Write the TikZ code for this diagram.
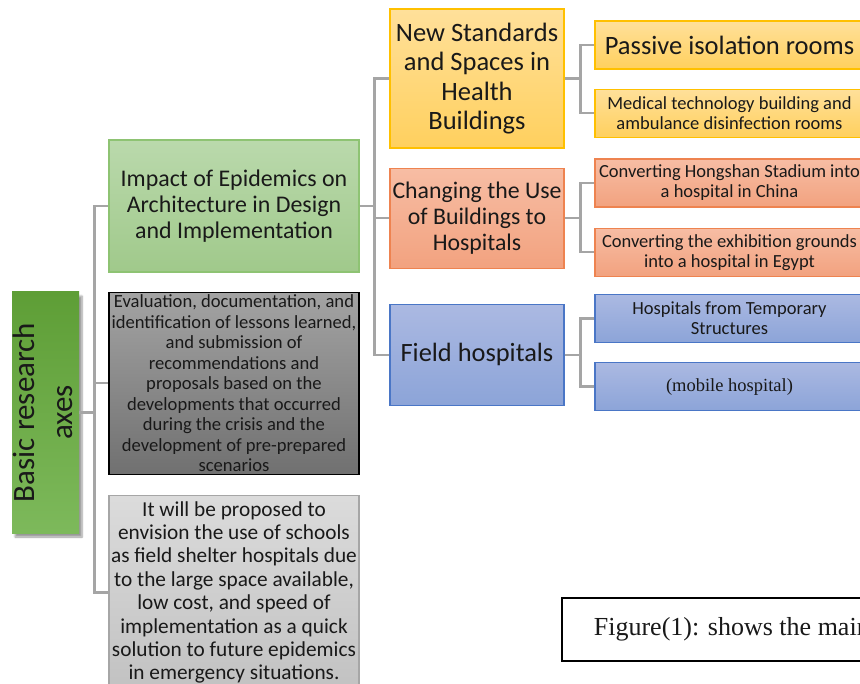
\documentclass[tikz,border=0pt]{standalone}
\usepackage{fontspec}
\setmainfont{Carlito}
\newfontfamily\serifface{Liberation Serif}
\usetikzlibrary{positioning, shadows.blur}

\definecolor{rootdark}{HTML}{5E9E36}
\definecolor{rootlight}{HTML}{7DB95B}
\definecolor{greentop}{HTML}{BAD9AC}
\definecolor{greenbot}{HTML}{A0C98B}
\definecolor{greenline}{HTML}{8EC373}
\definecolor{yellowtop}{HTML}{FFE09A}
\definecolor{yellowbot}{HTML}{FFD05E}
\definecolor{yellowline}{HTML}{FFC000}
\definecolor{orangetop}{HTML}{F7BDA4}
\definecolor{orangebot}{HTML}{F2A27F}
\definecolor{orangeline}{HTML}{EE8350}
\definecolor{bluetop}{HTML}{ABB9E2}
\definecolor{bluebot}{HTML}{8CA4D8}
\definecolor{blueline}{HTML}{4A76C6}
\definecolor{linkgray}{HTML}{A5A5A5}

\begin{document}
\begin{tikzpicture}[
    x=1pt, y=-1pt,
    every node/.style={inner sep=0pt, align=center, text=black!90},
    rootbox/.style={top color=rootdark, bottom color=rootlight, minimum width=67pt, minimum height=241pt,
        blur shadow={shadow xshift=3pt, shadow yshift=-4pt, shadow blur steps=6}},
    mainbox/.style={draw, line width=1.2pt, minimum width=250pt},
    stagebox/.style={draw, line width=1.2pt, minimum width=174pt},
    leafbox/.style={draw, line width=1.2pt, minimum width=269pt, minimum height=48pt,
        font=\fontsize{18.5}{20}\selectfont},
    greenfill/.style={top color=greentop, bottom color=greenbot, draw=greenline},
    yellowfill/.style={top color=yellowtop, bottom color=yellowbot, draw=yellowline},
    orangefill/.style={top color=orangetop, bottom color=orangebot, draw=orangeline},
    bluefill/.style={top color=bluetop, bottom color=bluebot, draw=blueline},
    link/.style={draw=linkgray, line width=2.6pt}
]
\useasboundingbox (0,0) rectangle (860,684);
\clip (0,0) rectangle (860,684);

% root on the left
\node[rootbox] (root) at (45.5,412.5)
    {\makebox[0pt]{\rotatebox{90}{\fontsize{31}{38}\selectfont\begin{tabular}{@{}c@{}}Basic research\\axes\end{tabular}}}};

% the three main axes
\node[mainbox, greenfill, minimum height=132pt, font=\fontsize{23.9}{26}\selectfont] (impact) at (234,206)
    {Impact of Epidemics on\\Architecture in Design\\and Implementation};
\node[mainbox, top color=black!36, bottom color=black!56, draw=black, minimum height=182pt,
    font=\fontsize{18.6}{20.5}\selectfont, below=19pt of impact] (evalbox)
    {Evaluation, documentation, and\\identification of lessons learned,\\and submission of\\recommendations and\\proposals based on the\\developments that occurred\\during the crisis and the\\development of pre-prepared\\scenarios};
\node[mainbox, top color=black!14, bottom color=black!24, draw=black!35, minimum height=194pt,
    font=\fontsize{21.3}{23.4}\selectfont, below=20pt of evalbox] (proposal)
    {It will be proposed to\\envision the use of schools\\as field shelter hospitals due\\to the large space available,\\low cost, and speed of\\implementation as a quick\\solution to future epidemics\\in emergency situations.};

% second level
\node[stagebox, yellowfill, minimum height=139pt, font=\fontsize{26.5}{29.5}\selectfont] (standards) at (477,78.5)
    {New Standards\\and Spaces in\\Health\\Buildings};
\node[stagebox, orangefill, minimum height=100pt, font=\fontsize{23.8}{26}\selectfont, below=19pt of standards] (reuse)
    {Changing the Use\\of Buildings to\\Hospitals};
\node[stagebox, bluefill, minimum height=101pt, font=\fontsize{26.4}{30}\selectfont, below=35pt of reuse] (field)
    {Field hospitals};

% third level, cut by the right edge
\node[leafbox, yellowfill, font=\fontsize{26.5}{30}\selectfont] (passive) at (729.5,45) {Passive isolation rooms};
\node[leafbox, yellowfill, below=19pt of passive] (medical) {Medical technology building and\\ambulance disinfection rooms};
\node[leafbox, orangefill] (china) at (729.5,183) {Converting Hongshan Stadium into\\a hospital in China};
\node[leafbox, orangefill, below=20pt of china] (egypt) {Converting the exhibition grounds\\into a hospital in Egypt};
\node[leafbox, bluefill] (temporary) at (729.5,318.5) {Hospitals from Temporary\\Structures};
\node[leafbox, bluefill, font=\serifface\fontsize{18.5}{20}\selectfont, below=19pt of temporary] (mobile) {(mobile hospital)};

% caption box
\node[draw=black, line width=1.8pt, anchor=west, minimum height=63pt, inner xsep=32pt,
    font=\serifface\fontsize{26}{30}\selectfont] (caption) at (561,629.5) {Figure(1): shows the main};

% connectors
\draw[link] (root.east) -- ++(15,0) |- (impact.west);
\draw[link] (root.east) -- ++(15,0) |- (evalbox.west);
\draw[link] (root.east) -- ++(15,0) |- (proposal.west);

\draw[link] (impact.east) -- ++(15,0) |- (standards.west);
\draw[link] (impact.east) -- ++(15,0) |- (reuse.west);
\draw[link] (impact.east) -- ++(15,0) |- (field.west);

\draw[link] (standards.east) -- ++(16,0) |- (passive.west);
\draw[link] (standards.east) -- ++(16,0) |- (medical.west);
\draw[link] (reuse.east) -- ++(16,0) |- (china.west);
\draw[link] (reuse.east) -- ++(16,0) |- (egypt.west);
\draw[link] (field.east) -- ++(16,0) |- (temporary.west);
\draw[link] (field.east) -- ++(16,0) |- (mobile.west);
\end{tikzpicture}
\end{document}
